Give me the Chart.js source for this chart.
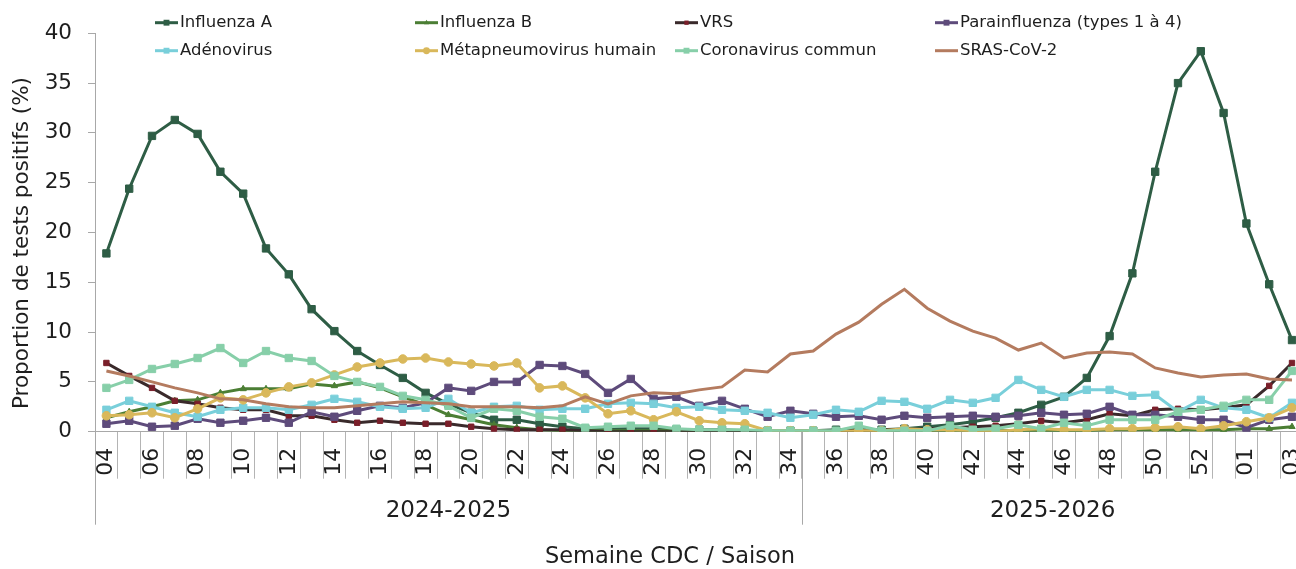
<!DOCTYPE html>
<html>
<head>
<meta charset="utf-8">
<script src="https://cdn.jsdelivr.net/npm/chart.js@4/dist/chart.umd.min.js"></script>
<style>
  html, body { margin: 0; padding: 0; overflow: hidden; background: #fff; }
  #wrap { position: relative; width: 1310px; height: 569px; }
</style>
</head>
<body>
<div id="wrap"><canvas id="chart"></canvas></div>
<script>
// CDC weeks, week 04 of 2025 to week 03 of 2026 (2025 has a week 53)
const weeks = ["04","05","06","07","08","09","10","11","12","13","14","15","16","17","18","19",
  "20","21","22","23","24","25","26","27","28","29","30","31","32","33","34",
  "35","36","37","38","39","40","41","42","43","44","45","46","47","48","49","50",
  "51","52","53","01","02","03"];
const seasons = ["2024-2025", "2025-2026"];
const seasonFirstWeek = ["04", "35"];
const yTicks = [0, 5, 10, 15, 20, 25, 30, 35, 40];

// % positive tests
const fluA  = [17.9,24.4,29.7,31.3,29.9,26.1,23.9,18.4,15.8,12.3,10.1,8.1,6.7,5.4,3.9,2.8,1.9,1.2,1.2,0.8,
  0.5,0.3,0.3,0.3,0.3,0.2,0.2,0.2,0.1,0.1,0.1,0.1,0.2,0.2,0.2,0.3,0.5,0.7,1.0,1.4,
  1.9,2.7,3.5,5.4,9.6,15.9,26.1,35.0,38.2,32.0,20.9,14.8,9.2];
const fluB  = [1.4,2.0,2.5,3.1,3.2,3.9,4.3,4.3,4.3,4.8,4.6,5.0,4.4,3.5,2.7,1.7,1.2,0.7,0.4,0.2,
  0.1,0.1,0.1,0.1,0.1,0.1,0.0,0.0,0.0,0.0,0.0,0.1,0.1,0.0,0.1,0.1,0.0,0.1,0.1,0.1,
  0.1,0.1,0.1,0.1,0.2,0.2,0.2,0.2,0.2,0.2,0.3,0.3,0.5];
const vrs   = [6.9,5.6,4.4,3.1,2.8,2.4,2.2,2.2,1.6,1.6,1.2,0.9,1.1,0.9,0.8,0.8,0.5,0.3,0.2,0.2,
  0.2,0.1,0.0,0.0,0.0,0.0,0.0,0.0,0.0,0.0,0.1,0.1,0.1,0.1,0.2,0.2,0.3,0.4,0.5,0.6,
  0.8,1.1,0.9,1.2,1.8,1.6,2.2,2.3,2.2,2.4,2.7,4.6,6.9];
const para  = [0.8,1.1,0.5,0.6,1.3,0.9,1.1,1.4,0.9,2.0,1.5,2.1,2.6,2.4,2.9,4.4,4.1,5.0,5.0,6.7,
  6.6,5.8,3.9,5.3,3.3,3.5,2.6,3.1,2.3,1.5,2.1,1.8,1.5,1.6,1.2,1.6,1.4,1.5,1.6,1.5,
  1.6,1.9,1.7,1.8,2.5,1.7,1.7,1.5,1.2,1.2,0.4,1.2,1.5];
const adeno = [2.2,3.1,2.5,1.9,1.5,2.2,2.4,2.4,2.2,2.7,3.3,3.0,2.5,2.3,2.4,3.3,1.9,2.5,2.6,2.2,
  2.3,2.3,2.8,2.9,2.8,2.4,2.5,2.2,2.1,1.9,1.4,1.7,2.2,2.0,3.1,3.0,2.3,3.2,2.9,3.4,
  5.2,4.2,3.5,4.2,4.2,3.6,3.7,2.0,3.2,2.4,2.2,1.4,2.9];
const hmpv  = [1.6,1.7,1.9,1.4,2.3,3.4,3.2,3.9,4.5,4.9,5.7,6.5,6.9,7.3,7.4,7.0,6.8,6.6,6.9,4.4,
  4.6,3.4,1.8,2.1,1.2,2.0,1.1,0.9,0.8,0.1,0.1,0.1,0.0,0.1,0.1,0.3,0.2,0.2,0.1,0.0,
  0.2,0.3,0.2,0.2,0.3,0.3,0.4,0.5,0.3,0.6,1.0,1.4,2.4];
const cov   = [4.4,5.2,6.3,6.8,7.4,8.4,6.9,8.1,7.4,7.1,5.6,5.0,4.5,3.6,3.2,2.6,1.4,2.3,2.1,1.5,
  1.3,0.4,0.5,0.6,0.6,0.3,0.2,0.2,0.2,0.1,0.1,0.1,0.1,0.6,0.1,0.1,0.1,0.6,0.2,0.3,
  0.7,0.3,0.9,0.6,1.2,1.2,1.2,2.0,2.2,2.6,3.2,3.2,6.1];
const sars  = [6.1,5.6,5.0,4.4,3.9,3.3,3.2,2.8,2.5,2.4,2.4,2.6,2.8,3.0,2.9,2.8,2.5,2.5,2.5,2.4,
  2.6,3.5,2.8,3.6,3.9,3.8,4.2,4.5,6.2,6.0,7.8,8.1,9.8,11.0,12.8,14.3,12.4,11.1,10.1,9.4,
  8.2,8.9,7.4,7.9,8.0,7.8,6.4,5.9,5.5,5.7,5.8,5.3,5.2];

const FONT = "DejaVu Sans";
const TXT = "#1e1e1e";
const AXIS = "#a8a8a8";

const series = [
  { label: "Influenza A", data: fluA, color: "#2E5D45", style: "rect", r: 5.2 },
  { label: "Influenza B", data: fluB, color: "#4B7E34", style: "triangle", r: 3.6 },
  { label: "VRS", data: vrs, color: "#3A2A2B", pointColor: "#7A1F2A", style: "rect", r: 3.8 },
  { label: "Parainfluenza (types 1 à 4)", data: para, color: "#5E4B7B", style: "rect", r: 5.2 },
  { label: "Adénovirus", data: adeno, color: "#79CFDA", style: "rect", r: 5.2 },
  { label: "Métapneumovirus humain", data: hmpv, color: "#D9B85B", style: "circle", r: 4.3 },
  { label: "Coronavirus commun", data: cov, color: "#87CFA9", style: "rect", r: 5.2 },
  { label: "SRAS-CoV-2", data: sars, color: "#B47B5F", style: false, r: 0 }
];

function marker(ctx, style, x, y, r, color) {
  ctx.fillStyle = color;
  ctx.beginPath();
  if (style === "rect") {
    const s = r * Math.SQRT1_2;
    ctx.rect(x - s, y - s, 2 * s, 2 * s);
  } else if (style === "circle") {
    ctx.arc(x, y, r, 0, Math.PI * 2);
  } else if (style === "triangle") {
    ctx.moveTo(x, y - r);
    ctx.lineTo(x + r * 0.87, y + r * 0.5);
    ctx.lineTo(x - r * 0.87, y + r * 0.5);
    ctx.closePath();
  } else return;
  ctx.fill();
}

// legend, season bands and axis titles
const overlay = {
  id: "overlay",
  afterDraw(chart) {
    const { ctx, chartArea, scales: { x } } = chart;
    ctx.save();

    series.forEach((s, k) => {
      const x0 = 155 + (k % 4) * 260;
      const y0 = k < 4 ? 22.7 : 50.7;
      ctx.strokeStyle = s.color;
      ctx.lineWidth = 3;
      ctx.beginPath();
      ctx.moveTo(x0, y0);
      ctx.lineTo(x0 + 23, y0);
      ctx.stroke();
      marker(ctx, s.style, x0 + 11.5, y0, s.r * 0.8, s.pointColor || s.color);
      ctx.fillStyle = TXT;
      ctx.font = "16.5px " + FONT;
      ctx.textAlign = "left";
      ctx.textBaseline = "middle";
      ctx.fillText(s.label, x0 + 25, y0 + 0.5);
    });

    const half = (x.getPixelForValue(1) - x.getPixelForValue(0)) / 2;
    const bottom = chartArea.bottom;
    ctx.strokeStyle = AXIS;
    ctx.lineWidth = 1;
    seasons.forEach((name, k) => {
      const i0 = weeks.indexOf(seasonFirstWeek[k]);
      const i1 = k + 1 < seasons.length ? weeks.indexOf(seasonFirstWeek[k + 1]) - 1 : weeks.length - 1;
      const left = x.getPixelForValue(i0) - half;
      const right = x.getPixelForValue(i1) + half;
      ctx.beginPath();
      ctx.moveTo(Math.round(left) + 0.5, bottom);
      ctx.lineTo(Math.round(left) + 0.5, bottom + 93);
      ctx.stroke();
      ctx.fillStyle = TXT;
      ctx.font = "23px " + FONT;
      ctx.textAlign = "center";
      ctx.textBaseline = "middle";
      ctx.fillText(name, (left + right) / 2, bottom + 79);
    });

    ctx.font = "22.5px " + FONT;
    ctx.fillText("Semaine CDC / Saison", 670, 557);

    ctx.translate(22, 243);
    ctx.rotate(-Math.PI / 2);
    ctx.font = "21.5px " + FONT;
    ctx.fillText("Proportion de tests positifs (%)", 0, 0);
    ctx.restore();
  }
};

new Chart(document.getElementById("chart"), {
  type: "line",
  data: {
    labels: weeks,
    datasets: series.map((s, i) => ({
      label: s.label,
      data: s.data,
      borderColor: s.color,
      backgroundColor: s.color,
      borderWidth: 3,
      pointStyle: s.style,
      pointRadius: s.r,
      pointBorderWidth: 1,
      pointBackgroundColor: s.pointColor || s.color,
      pointBorderColor: s.pointColor || s.color,
      tension: 0,
      order: series.length - i
    }))
  },
  options: {
    responsive: true,
    maintainAspectRatio: false,
    animation: false,
    layout: { padding: { top: 33.3, right: 6.6, left: 0, bottom: 0 } },
    plugins: { legend: { display: false }, tooltip: { enabled: false } },
    scales: {
      x: {
        offset: true,
        grid: { offset: true, drawOnChartArea: false, tickLength: 47, color: "#b4b4b4" },
        border: { color: AXIS },
        ticks: {
          autoSkip: false, minRotation: 90, maxRotation: 90, padding: -31,
          color: TXT, font: { family: FONT, size: 22 },
          callback: (v, i) => (i % 2 === 0 ? weeks[i] : "")
        },
        afterFit: s => { s.height = 569 - 431.7; }
      },
      y: {
        min: 0, max: 40,
        afterBuildTicks: s => { s.ticks = yTicks.map(v => ({ value: v })); },
        grid: { drawOnChartArea: false, tickLength: 7, color: AXIS },
        border: { color: AXIS },
        ticks: { padding: 16, color: TXT, font: { family: FONT, size: 21.5 } },
        afterFit: s => { s.width = 95; }
      }
    }
  },
  plugins: [overlay]
});
</script>
</body>
</html>
